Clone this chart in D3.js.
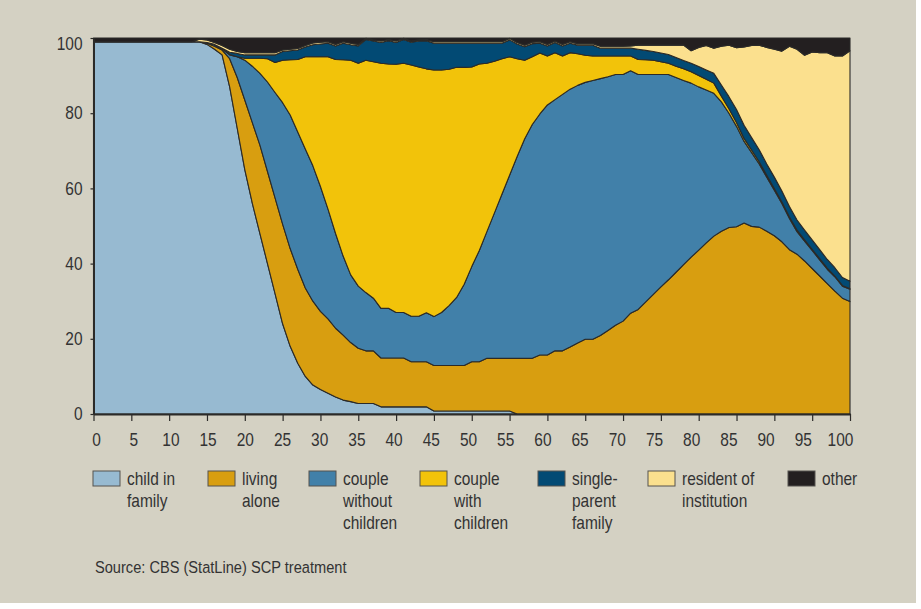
<!DOCTYPE html>
<html>
<head>
<meta charset="utf-8">
<script src="https://cdn.jsdelivr.net/npm/d3@7"></script>
<style>
    body { margin: 0; background: #ffffff; }
    svg text { font-family: "Liberation Sans Narrow", "Liberation Sans", sans-serif; fill: #333333; }
</style>
</head>
<body>
<svg id="chart" width="921" height="609"></svg>
<script>
// share of population by household position, per age (0..100)
const ages = d3.range(0, 101);

const childInFamily = [
    99, 99, 99, 99, 99, 99, 99, 99, 99, 99,
    99, 99, 99, 99, 99, 98.3, 97, 95.5, 87, 76,
    65, 56, 48, 40, 32, 24, 18, 13.5, 10, 7.7,
    6.5, 5.5, 4.5, 3.7, 3.3, 2.8, 2.8, 2.8, 1.9, 1.9,
    1.9, 1.9, 1.9, 1.9, 1.9, 0.8, 0.8, 0.8, 0.8, 0.8,
    0.8, 0.8, 0.8, 0.8, 0.8, 0.8, 0, 0, 0, 0,
    0, 0, 0, 0, 0, 0, 0, 0, 0, 0,
    0, 0, 0, 0, 0, 0, 0, 0, 0, 0,
    0, 0, 0, 0, 0, 0, 0, 0, 0, 0,
    0, 0, 0, 0, 0, 0, 0, 0, 0, 0,
    0
];
const livingAlone = [
    0, 0, 0, 0, 0, 0, 0, 0, 0, 0,
    0, 0, 0, 0, 0, 0.3, 0.8, 1.3, 7.5, 13.5,
    18.5, 21.5, 23.5, 24.5, 25.5, 26.5, 26, 25, 23.5, 22.3,
    20.8, 19.8, 18.3, 17.3, 15.7, 14.7, 14, 14, 13, 13,
    13, 13, 12, 12, 12, 12.1, 12.1, 12.1, 12.1, 12.1,
    13.1, 13.1, 14, 14, 14, 14, 14.8, 14.8, 14.8, 15.7,
    15.7, 16.8, 16.8, 17.8, 18.9, 19.9, 19.9, 20.9, 22.2, 23.6,
    24.7, 26.8, 27.8, 29.8, 31.8, 33.8, 35.7, 37.7, 39.7, 41.7,
    43.6, 45.5, 47.3, 48.6, 49.6, 49.8, 50.8, 49.9, 49.7, 48.6,
    47.4, 45.8, 43.7, 42.5, 40.7, 38.7, 36.7, 34.7, 32.7, 30.8,
    29.9
];
const coupleWithout = [
    0, 0, 0, 0, 0, 0, 0, 0, 0, 0,
    0, 0, 0, 0, 0, 0.2, 0.4, 0.3, 1, 5.5,
    10.6, 15, 19.1, 23.8, 28, 32.3, 35.5, 36.5, 37, 36,
    33.2, 29.2, 25.2, 21, 18, 16.5, 15.5, 14, 13.2, 13.2,
    12.1, 12.1, 12.1, 12.1, 13, 13, 14.1, 15.9, 18.1, 21.6,
    25.3, 29.6, 33.7, 38.7, 43.7, 48.7, 53.7, 58.4, 62.2, 64.1,
    66.5, 66.8, 68.2, 68.6, 68.5, 68.3, 68.8, 68.3, 67.5, 66.7,
    65.6, 64.5, 62.5, 60.5, 58.5, 56.5, 54.6, 51.8, 49, 46.3,
    43.4, 40.7, 38, 34.4, 30.4, 26.7, 21.7, 19.6, 16.8, 14.4,
    12.1, 10.2, 8.3, 6, 5.3, 4.8, 4.3, 3.8, 3.8, 3.2,
    3.3
];
const coupleWith = [
    0, 0, 0, 0, 0, 0, 0, 0, 0, 0,
    0, 0, 0, 0, 0, 0, 0, 0.1, 0.1, 0,
    0.5, 2.1, 4, 6.2, 8, 11.3, 14.7, 19.3, 24.5, 29,
    34.5, 40.5, 46.3, 52.2, 57.1, 59.3, 61.8, 62.9, 65.2, 65,
    66, 66.3, 66.8, 66.3, 64.9, 65.6, 64.5, 62.9, 61.2, 57.7,
    53.1, 49.6, 44.8, 40.3, 36, 31.5, 26, 20.9, 18, 16.2,
    13, 12.5, 10.2, 9.7, 8.4, 7.2, 6.5, 6, 5.5, 4.9,
    4.9, 3.9, 4, 3.9, 3.8, 3.4, 3, 3, 3.1, 3,
    3, 2.8, 2.7, 1.5, 1.2, 1, 0.8, 0.7, 0.6, 0.5,
    0.5, 0.4, 0.4, 0.4, 0.3, 0.3, 0.3, 0.3, 0.2, 0.2,
    0.1
];
const singleParent = [
    0, 0, 0, 0, 0, 0, 0, 0, 0, 0,
    0, 0, 0, 0, 0, 0, 0.1, 0.1, 0.6, 0.9,
    0.9, 0.9, 0.9, 1, 2, 2.3, 2.4, 2.5, 2.6, 3.2,
    3.4, 3.6, 3.6, 4.4, 4.1, 4.6, 5.5, 5.5, 5.5, 6.2,
    5.8, 6.3, 6.1, 6.9, 7.5, 7.1, 7.1, 6.9, 6.4, 6.4,
    6.3, 5.5, 5.3, 4.8, 4.1, 4.5, 3.9, 3.6, 3.5, 2.6,
    2.7, 2.7, 2.7, 2.5, 2.3, 2.7, 2.9, 2.1, 2.1, 2.1,
    2.1, 2.1, 2.7, 2.5, 2.3, 2.3, 2.3, 2.3, 2.2, 2.3,
    2.4, 2.5, 2.6, 3, 3.2, 3.5, 3.5, 3.3, 3.2, 3,
    3, 2.9, 2.8, 2.7, 2.6, 2.5, 2.4, 2.3, 2.2, 2.1,
    2
];
const institution = [
    0, 0, 0, 0, 0, 0, 0, 0, 0, 0,
    0, 0, 0, 0, 0.7, 0.7, 0.5, 0.7, 0.8, 0.5,
    0.6, 0.6, 0.6, 0.6, 0.6, 0.4, 0.4, 0.4, 0.4, 0.5,
    0.5, 0.4, 0.4, 0.4, 0.4, 0.4, 0.3, 0.3, 0.4, 0.3,
    0.4, 0.3, 0.3, 0.3, 0.3, 0.4, 0.4, 0.4, 0.4, 0.4,
    0.4, 0.4, 0.4, 0.4, 0.4, 0.4, 0.4, 0.4, 0.4, 0.4,
    0.4, 0.4, 0.4, 0.4, 0.4, 0.4, 0.4, 0.5, 0.5, 0.5,
    0.5, 0.6, 1.1, 1.4, 1.7, 2.1, 2.5, 3.3, 4.1, 3.3,
    5.1, 6.5, 6.7, 10.3, 13.7, 16.4, 20.8, 24.5, 27.8, 31,
    34, 37.2, 42.6, 45.4, 46.5, 50, 52.4, 55, 56.3, 58.9,
    61.3
];
const other = [
    1, 1, 1, 1, 1, 1, 1, 1, 1, 1,
    1, 1, 1, 1, 0.3, 0.5, 1.2, 2, 3, 3.6,
    3.9, 3.9, 3.9, 3.9, 3.9, 3.2, 3, 2.8, 2, 1.3,
    1.1, 1, 1.7, 1, 1.4, 1.7, 0.1, 0.5, 0.8, 0.4,
    0.8, 0.1, 0.8, 0.5, 0.4, 1, 1, 1, 1, 1,
    1, 1, 1, 1, 1, 0.1, 1.2, 1.9, 1.1, 1,
    1.7, 0.8, 1.7, 1, 1.5, 1.5, 1.5, 2.2, 2.2, 2.2,
    2.2, 2.1, 1.9, 1.9, 1.9, 1.9, 1.9, 1.9, 1.9, 3.4,
    2.5, 2, 2.7, 2.2, 1.9, 2.6, 2.4, 2, 1.9, 2.5,
    3, 3.5, 2.2, 3, 4.6, 3.7, 3.9, 3.9, 4.8, 4.8,
    3.4
];

const seriesKeys = ['child', 'alone', 'coupleWithout', 'coupleWith', 'singleParent', 'institution', 'other'];
const seriesValues = [childInFamily, livingAlone, coupleWithout, coupleWith, singleParent, institution, other];
const seriesLabels = [
    ['child in', 'family'],
    ['living', 'alone'],
    ['couple', 'without', 'children'],
    ['couple', 'with', 'children'],
    ['single-', 'parent', 'family'],
    ['resident of', 'institution'],
    ['other']
];
const colors = ['#97bad1', '#d89e10', '#4180a9', '#f2c30a', '#024a74', '#fbe08e', '#231f20'];

const xTicks = d3.range(0, 101, 5);
const yTicks = [0, 20, 40, 60, 80, 100];

// the original typeface is a condensed gothic; squeeze the text horizontally
const squeeze = 0.86;

function translate(x, y) {
    return `translate(${x}, ${y})`;
}

const svg = d3.select('#chart');

svg.append('rect')
    .attr('width', 916).attr('height', 603)
    .style('fill', '#d4d1c3');

const x = d3.scaleLinear().domain([0, 100]).range([93.5, 850]);
const y = d3.scaleLinear().domain([0, 100]).range([414, 38]);
// tick labels in the original sit on a slightly tighter spacing than the ticks
const xLabel = d3.scaleLinear().domain([0, 100]).range([96, 840]);

const rows = ages.map((age, i) => {
    const row = { age: age };
    seriesKeys.forEach((k, j) => { row[k] = seriesValues[j][i]; });
    return row;
});
const stacked = d3.stack().keys(seriesKeys)(rows);

const area = d3.area()
    .x(d => x(d.data.age))
    .y0(d => y(d[0]))
    .y1(d => y(d[1]));

svg.append('g').selectAll('path').data(stacked)
    .enter().append('path')
    .attr('d', area)
    .style('fill', (d, i) => colors[i])
    .style('stroke', '#2b2a28')
    .style('stroke-width', 1.1)
    .style('stroke-linejoin', 'round');

const xAxis = svg.append('g')
    .attr('transform', translate(0, 414))
    .call(d3.axisBottom(x).tickValues(xTicks).tickSize(7).tickSizeOuter(0).tickPadding(12));
xAxis.selectAll('.tick text')
    .attr('transform', `scale(${squeeze}, 1)`)
    .attr('dx', d => (xLabel(d) - x(d)) / squeeze)
    .style('font-size', '18px');

const yAxis = svg.append('g')
    .attr('transform', translate(93.5, 0))
    .call(d3.axisLeft(y).tickValues(yTicks).tickSize(3).tickSizeOuter(0).tickPadding(8));
yAxis.selectAll('.tick text')
    .attr('transform', `scale(${squeeze}, 1)`)
    .attr('x', -11 / squeeze)
    .attr('dy', d => d === 100 ? '0.65em' : '0.32em')
    .style('font-size', '18px');

[xAxis, yAxis].forEach(ax => {
    ax.select('.domain').style('stroke', '#2b2a28').style('stroke-width', 2);
    ax.selectAll('.tick line').style('stroke', '#2b2a28').style('stroke-width', 1.2);
    ax.selectAll('.tick text').style('fill', '#333333');
});

const legendX = [93, 208, 309, 420, 538, 648, 788];
const legend = svg.append('g');
const items = legend.selectAll('g').data(seriesKeys)
    .enter().append('g')
    .attr('transform', (d, i) => translate(legendX[i], 471));
items.append('rect')
    .attr('width', 27).attr('height', 15)
    .style('fill', (d, i) => colors[i])
    .style('stroke', '#55534e')
    .style('stroke-width', 1);
items.each(function(d, i) {
    const t = d3.select(this).append('text')
        .attr('transform', translate(34, 0) + ` scale(${squeeze}, 1)`)
        .style('font-size', '18px');
    seriesLabels[i].forEach((line, j) => {
        t.append('tspan').attr('x', 0).attr('y', 14 + 22 * j).text(line);
    });
});

svg.append('text')
    .attr('transform', translate(95, 573) + ` scale(${squeeze}, 1)`)
    .style('font-size', '17px')
    .text('Source: CBS (StatLine) SCP treatment');
</script>
</body>
</html>
